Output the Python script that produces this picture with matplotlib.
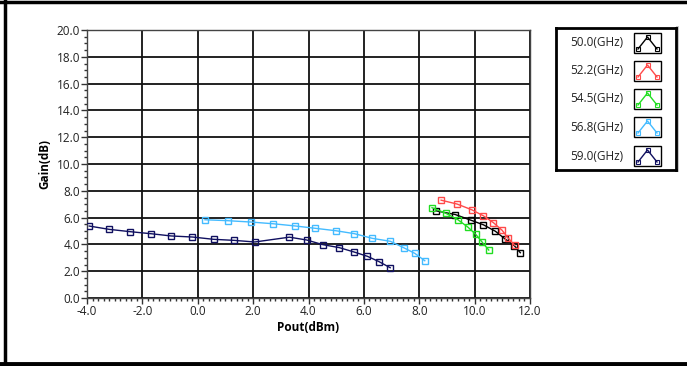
import matplotlib
matplotlib.use("Agg")
import matplotlib.pyplot as plt
from matplotlib.ticker import MultipleLocator
from matplotlib.patches import Rectangle
from matplotlib.lines import Line2D

labels = ["50.0(GHz)", "52.2(GHz)", "54.5(GHz)", "56.8(GHz)", "59.0(GHz)"]
colors = ["#000000", "#ff4a4a", "#22dd22", "#44bbff", "#101060"]

x_50 = [8.62, 9.30, 9.86, 10.32, 10.75, 11.11, 11.43, 11.65]
y_50 = [6.50, 6.23, 5.81, 5.46, 4.98, 4.39, 3.91, 3.38]
x_52 = [8.79, 9.37, 9.89, 10.32, 10.68, 10.99, 11.22, 11.45]
y_52 = [7.30, 7.01, 6.59, 6.13, 5.62, 5.06, 4.45, 3.93]
x_54 = [8.46, 8.96, 9.39, 9.75, 10.04, 10.28, 10.51]
y_54 = [6.74, 6.32, 5.85, 5.30, 4.75, 4.15, 3.58]
x_56 = [0.26, 1.08, 1.91, 2.73, 3.50, 4.25, 4.99, 5.66, 6.31, 6.96, 7.46, 7.84, 8.20]
y_56 = [5.84, 5.77, 5.67, 5.54, 5.38, 5.20, 5.02, 4.80, 4.45, 4.23, 3.73, 3.33, 2.78]
x_59 = [-3.92, -3.19, -2.44, -1.70, -0.96, -0.19, 0.57, 1.32, 2.06, 3.31, 3.93, 4.52, 5.11, 5.65, 6.13, 6.55, 6.95]
y_59 = [5.37, 5.12, 4.95, 4.80, 4.63, 4.55, 4.38, 4.30, 4.18, 4.54, 4.33, 3.98, 3.76, 3.43, 3.11, 2.71, 2.26]

series_x = [x_50, x_52, x_54, x_56, x_59]
series_y = [y_50, y_52, y_54, y_56, y_59]

x_ticks = [-4.0, -2.0, 0.0, 2.0, 4.0, 6.0, 8.0, 10.0, 12.0]
y_ticks = [0.0, 2.0, 4.0, 6.0, 8.0, 10.0, 12.0, 14.0, 16.0, 18.0, 20.0]

plt.rcParams['font.family'] = ['Open Sans', 'DejaVu Sans']

W, H = 687, 366
fig = plt.figure(figsize=(W / 100, H / 100), dpi=100)

def fx(px):
    return px / W

def fy(py):
    return 1 - py / H

ax = fig.add_axes([fx(87), fy(298), fx(530) - fx(87), fy(30) - fy(298)])
ax.set_xlim(-4, 12)
ax.set_ylim(0, 20)
ax.set_xticks(x_ticks)
ax.set_yticks(y_ticks)
ax.set_xticklabels([f"{v:.1f}" for v in x_ticks])
ax.set_yticklabels([f"{v:.1f}" for v in y_ticks])
ax.xaxis.set_minor_locator(MultipleLocator(0.2))
ax.yaxis.set_minor_locator(MultipleLocator(0.5))
ax.tick_params(axis='both', which='major', length=4, width=1, labelsize=8.5, colors='#333333', labelcolor='#222222', pad=1)
ax.tick_params(axis='both', which='minor', length=2.5, width=1, colors='#333333')
ax.grid(True, which='major', color='#111111', linewidth=1.3)
for s in ax.spines.values():
    s.set_color('#444444')
    s.set_linewidth(1.0)

for xs, ys, c in zip(series_x, series_y, colors):
    ax.plot(xs, ys, color=c, linewidth=1.0, marker='s', markersize=4.5,
            markerfacecolor='none', markeredgecolor=c, markeredgewidth=1.0, zorder=3)

ax.set_xlabel("Pout(dBm)", fontsize=8.5, fontweight='bold', labelpad=2)
ax.set_ylabel("Gain(dB)", fontsize=8.5, fontweight='bold', labelpad=4)

# outer frame: left, top, bottom
fig.lines.append(Line2D([fx(4.5), fx(4.5)], [fy(0), fy(364)], transform=fig.transFigure, color='black', linewidth=2.5))
fig.lines.append(Line2D([fx(0), fx(W)], [fy(1.5), fy(1.5)], transform=fig.transFigure, color='black', linewidth=2.5))
fig.lines.append(Line2D([fx(0), fx(W)], [fy(364), fy(364)], transform=fig.transFigure, color='black', linewidth=3.5))

# legend box
lx0, ly0, lx1, ly1 = 556, 28, 676, 170
# shadow
fig.patches.append(Rectangle((fx(lx1), fy(ly1 + 2)), fx(3), fy(ly0 - 2) - fy(ly1 + 2),
                             transform=fig.transFigure, facecolor='#c8c8c8',
                             edgecolor='none', zorder=-1))
lax = fig.add_axes([fx(lx0), fy(ly1), fx(lx1) - fx(lx0), fy(ly0) - fy(ly1)])
lax.set_zorder(5)
lax.set_facecolor('white')
lax.set_xlim(lx0, lx1)
lax.set_ylim(ly1, ly0)
lax.set_xticks([])
lax.set_yticks([])
for s in lax.spines.values():
    s.set_linewidth(2)
    s.set_color('black')

row_y = [43, 71, 99, 127, 156]
for lab, c, yy in zip(labels, colors, row_y):
    lax.text(623, yy, lab, ha='right', va='center', fontsize=8.5, color='#222222')
    lax.add_patch(Rectangle((634, yy - 10), 27, 20, fill=False, edgecolor='black', linewidth=1))
    px = [638, 647.5, 657]
    py = [yy + 6, yy - 6, yy + 6]
    lax.plot(px, py, color=c, linewidth=1.0, marker='s', markersize=3,
             markerfacecolor='none', markeredgecolor=c, markeredgewidth=0.8)

fig.savefig("out.png", dpi=100)
